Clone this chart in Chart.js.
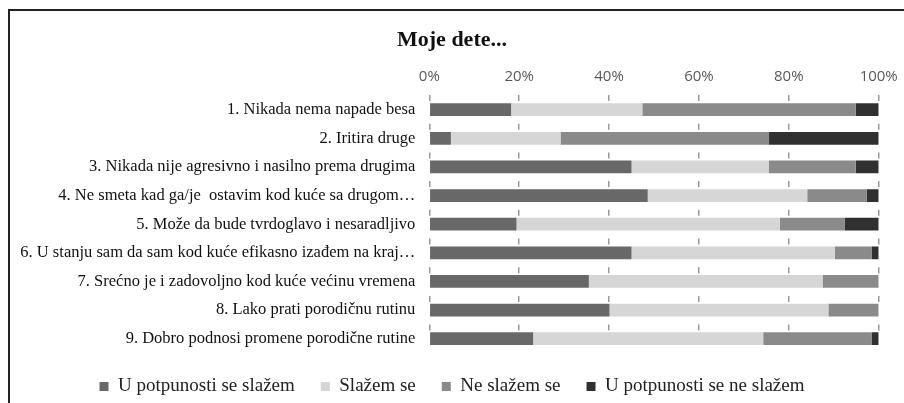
<!DOCTYPE html>
<html>
<head>
<meta charset="utf-8">
<script src="https://cdn.jsdelivr.net/npm/chart.js@4.4.1/dist/chart.umd.min.js"></script>
<style>
  html, body { margin: 0; padding: 0; background: #fff; }
  #wrap { position: relative; width: 904px; height: 403px; overflow: hidden; }
  #frame { position: absolute; left: 8px; top: 9px; width: 1000px; height: 500px; border: 2px solid #222; }
  #myChart { position: absolute; left: 0; top: 0; }
</style>
</head>
<body>
<div id="wrap">
  <div id="frame"></div>
  <canvas id="myChart" width="904" height="403"></canvas>
</div>
<script>
// setup
const items = [
  '1. Nikada nema napade besa',
  '2. Iritira druge',
  '3. Nikada nije agresivno i nasilno prema drugima',
  '4. Ne smeta kad ga/je  ostavim kod kuće sa drugom…',
  '5. Može da bude tvrdoglavo i nesaradljivo',
  '6. U stanju sam da sam kod kuće efikasno izađem na kraj…',
  '7. Srećno je i zadovoljno kod kuće većinu vremena',
  '8. Lako prati porodičnu rutinu',
  '9. Dobro podnosi promene porodične rutine'
];
const seriesNames = ['U potpunosti se slažem', 'Slažem se', 'Ne slažem se', 'U potpunosti se ne slažem'];
const fullyAgree    = [18.2, 4.8, 45.0, 48.6, 19.4, 45.0, 35.5, 40.1, 23.1];
const agree         = [29.2, 24.4, 30.5, 35.5, 58.6, 45.2, 52.0, 48.7, 51.2];
const disagree      = [47.5, 46.4, 19.4, 13.2, 14.4, 8.2, 12.5, 11.2, 24.2];
const fullyDisagree = [5.1, 24.4, 5.1, 2.7, 7.6, 1.6, 0, 0, 1.5];
const xTicks = [0, 20, 40, 60, 80, 100];
const colors = ['#686868', '#d6d6d6', '#8a8a8a', '#303030'];

const serif = 'Liberation Serif';
const values = [fullyAgree, agree, disagree, fullyDisagree];

const data = {
  labels: items,
  datasets: values.map((v, i) => ({
    label: seriesNames[i],
    data: v,
    backgroundColor: colors[i],
    borderWidth: 0,
    barPercentage: 0.443,
    categoryPercentage: 1
  }))
};

// legend sits a bit higher than chart.js puts it
const nudgeLegend = {
  id: 'nudgeLegend',
  afterLayout(chart) {
    const l = chart.legend;
    l.top -= 2;
    l.bottom -= 2;
  }
};

const config = {
  type: 'bar',
  data,
  options: {
    indexAxis: 'y',
    responsive: false,
    animation: false,
    layout: { padding: { top: 0, right: 0, bottom: -5, left: 0 } },
    scales: {
      x: {
        position: 'top',
        stacked: true,
        min: 0,
        max: 100,
        afterBuildTicks: (s) => { s.ticks = xTicks.map(v => ({ value: v })); },
        afterFit: (s) => { s.paddingRight = 25.3; },
        ticks: {
          padding: 9.5,
          color: '#595959',
          font: { family: 'Open Sans', size: 15 },
          callback: (v) => v + '%'
        },
        grid: {
          drawTicks: false,
          color: '#999',
          lineWidth: 1.5
        },
        border: { display: false, dash: [6, 22.7] }
      },
      y: {
        stacked: true,
        afterFit: (s) => { s.width = 429.3; },
        ticks: {
          padding: 14,
          color: '#111',
          font: { family: serif, size: 16.5 }
        },
        grid: { display: false, drawTicks: false },
        border: { display: false }
      }
    },
    plugins: {
      title: {
        display: true,
        text: 'Moje dete...',
        color: '#111',
        font: { family: serif, size: 22, weight: 'bold' },
        padding: { top: 27, bottom: 5 }
      },
      legend: {
        position: 'bottom',
        labels: {
          boxWidth: 9,
          boxHeight: 9,
          padding: 26,
          color: '#222',
          font: { family: serif, size: 19 }
        }
      },
      tooltip: { enabled: false }
    }
  },
  plugins: [nudgeLegend]
};

const ctx = document.getElementById('myChart');
const myChart = new Chart(ctx, config);
</script>
</body>
</html>
